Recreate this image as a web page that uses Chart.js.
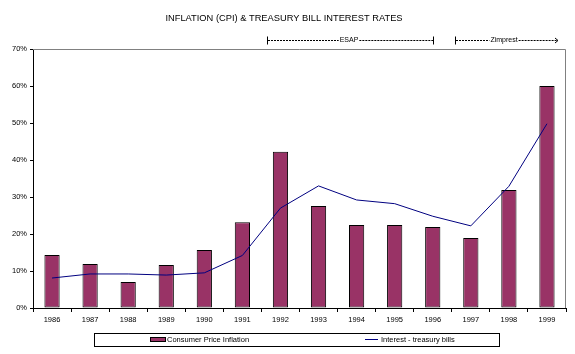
<!DOCTYPE html>
<html>
<head>
<meta charset="utf-8">
<script src="https://cdn.jsdelivr.net/npm/chart.js@4.4.1/dist/chart.umd.min.js"></script>
<style>
  html, body { margin: 0; padding: 0; background: #fff; }
  #wrap { width: 575px; height: 354px; position: relative; }
</style>
</head>
<body>
<div id="wrap"><canvas id="chart"></canvas></div>
<script>
// data
var years = ["1986", "1987", "1988", "1989", "1990", "1991", "1992",
             "1993", "1994", "1995", "1996", "1997", "1998", "1999"];
var cpi = [14.3, 11.9, 7.0, 11.6, 15.7, 23.2, 42.2, 27.6, 22.4, 22.4, 21.9, 18.9, 31.9, 60.0];
var tbills = [8.1, 9.2, 9.2, 8.9, 9.5, 14.2, 27.0, 33.0, 29.2, 28.2, 24.8, 22.2, 32.9, 49.8];
var yTicks = [0, 10, 20, 30, 40, 50, 60, 70];

var FONT = "'Liberation Sans', Arial, sans-serif";

// title, period markers, frame and boxed legend
var extras = {
  id: 'extras',
  afterDraw: function (chart) {
    var c = chart.ctx, a = chart.chartArea;
    c.save();

    // gray frame top & right
    c.strokeStyle = '#808080';
    c.lineWidth = 1;
    c.beginPath();
    c.moveTo(a.left, a.top + 0.5);
    c.lineTo(a.right - 0.5, a.top + 0.5);
    c.lineTo(a.right - 0.5, a.bottom);
    c.stroke();

    c.fillStyle = '#000';
    c.font = '9.3px ' + FONT;
    c.textAlign = 'center';
    c.textBaseline = 'middle';
    c.fillText('INFLATION (CPI) & TREASURY BILL INTEREST RATES', 284, 18);

    // ESAP / Zimprest period markers
    c.font = '7px ' + FONT;
    c.strokeStyle = '#000';
    function period(x1, x2, label, lx, arrow) {
      var y = 40.5;
      c.beginPath();
      c.moveTo(x1 + 0.5, y - 4); c.lineTo(x1 + 0.5, y + 4);
      if (!arrow) { c.moveTo(x2 + 0.5, y - 4); c.lineTo(x2 + 0.5, y + 4); }
      c.stroke();
      var tw = c.measureText(label).width;
      c.setLineDash([2, 1]);
      c.beginPath();
      c.moveTo(x1 + 1, y); c.lineTo(lx - tw / 2 - 1, y);
      c.moveTo(lx + tw / 2 + 1, y); c.lineTo(x2, y);
      c.stroke();
      c.setLineDash([]);
      if (arrow) {
        c.beginPath();
        c.moveTo(x2 - 3, y - 2.5); c.lineTo(x2, y); c.lineTo(x2 - 3, y + 2.5);
        c.stroke();
      }
      c.fillText(label, lx, y);
    }
    period(267, 433, 'ESAP', 349, false);
    period(455, 558, 'Zimprest', 504, true);

    // legend box
    var bars = chart.data.datasets[0], line = chart.data.datasets[1];
    c.strokeStyle = '#000';
    c.strokeRect(94.5, 333.5, 405, 13);
    c.textAlign = 'left';
    c.font = '7.5px ' + FONT;
    c.fillStyle = bars.backgroundColor;
    c.fillRect(150, 337, 16, 5);
    c.strokeRect(150.5, 337.5, 15, 4);
    c.fillStyle = '#000';
    c.fillText(bars.label, 167, 340);
    c.strokeStyle = line.borderColor;
    c.beginPath();
    c.moveTo(365, 339.5); c.lineTo(378, 339.5);
    c.stroke();
    c.fillText(line.label, 381, 340);

    c.restore();
  }
};

new Chart(document.getElementById('chart'), {
  data: {
    labels: years,
    datasets: [
      {
        type: 'bar',
        label: 'Consumer Price Inflation',
        data: cpi,
        backgroundColor: '#993366',
        borderColor: '#000',
        borderWidth: 1,
        borderSkipped: false,
        barPercentage: 0.4,
        categoryPercentage: 1,
        order: 1
      },
      {
        type: 'line',
        label: 'Interest - treasury bills',
        data: tbills,
        borderColor: '#000080',
        borderWidth: 1,
        pointRadius: 0,
        tension: 0,
        order: 0
      }
    ]
  },
  options: {
    responsive: true,
    maintainAspectRatio: false,
    animation: false,
    layout: { padding: { top: 49, right: 9, left: 0, bottom: 0 } },
    plugins: {
      legend: { display: false },
      title: { display: false },
      tooltip: { enabled: false }
    },
    scales: {
      x: {
        offset: true,
        afterFit: function (s) { s.height = 46; },
        grid: { offset: true, drawOnChartArea: false, drawTicks: true, tickLength: 4, color: '#000' },
        border: { color: '#000' },
        ticks: { color: '#000', font: { family: FONT, size: 7.5 }, padding: 3, maxRotation: 0 }
      },
      y: {
        min: 0,
        max: 70,
        afterFit: function (s) { s.width = 33; },
        afterBuildTicks: function (s) {
          s.ticks = yTicks.map(function (v) { return { value: v }; });
        },
        grid: { drawOnChartArea: false, drawTicks: true, tickLength: 3, color: '#000' },
        border: { color: '#000' },
        ticks: {
          color: '#000',
          font: { family: FONT, size: 7.5 },
          padding: 3,
          callback: function (v) { return v + '%'; }
        }
      }
    }
  },
  plugins: [extras]
});
</script>
</body>
</html>
